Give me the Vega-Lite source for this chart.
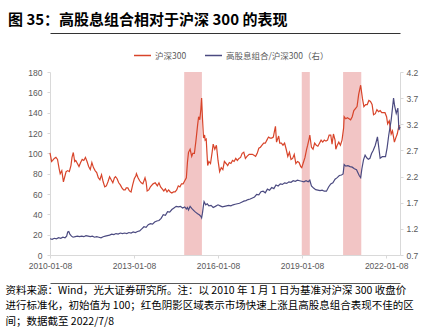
{
  "$schema": "https://vega.github.io/schema/vega-lite/v6.json",
  "width": 350,
  "height": 183,
  "autosize": {"type": "none"},
  "padding": {"left": 50, "top": 72, "right": 32, "bottom": 73},
  "background": "white",
  "config": {"view": {"stroke": null}, "axis": {"grid": false, "labelFont": "Liberation Sans", "labelFontSize": 8.5, "labelColor": "#595959"}},
  "title": {"text": "图 35：高股息组合相对于沪深 300 的表现", "anchor": "start", "frame": "group", "dx": -42, "dy": 18, "orient": "top", "offset": 8, "baseline": "bottom", "font": "Noto Sans CJK SC", "fontSize": 15, "fontWeight": "bold", "color": "#000000"},
  "datasets": {
    "shade": [
      {"start": "2014/10/24", "end": "2015/06/12"},
      {"start": "2019/01/04", "end": "2019/04/19"},
      {"start": "2020/06/26", "end": "2021/02/18"}
    ],
    "hs": [
      {"date": "2010/01/08", "v": 100.5}, {"date": "2010/01/29", "v": 92}, {"date": "2010/02/12", "v": 93}, {"date": "2010/03/05", "v": 95}, {"date": "2010/03/26", "v": 96}, {"date": "2010/04/16", "v": 94}, {"date": "2010/05/07", "v": 85}, {"date": "2010/05/21", "v": 80}, {"date": "2010/06/11", "v": 83}, {"date": "2010/07/02", "v": 72}, {"date": "2010/07/16", "v": 76}, {"date": "2010/08/06", "v": 82}, {"date": "2010/08/27", "v": 83}, {"date": "2010/09/17", "v": 82}, {"date": "2010/10/08", "v": 88}, {"date": "2010/10/22", "v": 96}, {"date": "2010/11/08", "v": 100.8}, {"date": "2010/11/26", "v": 92}, {"date": "2010/12/10", "v": 93}, {"date": "2010/12/31", "v": 90},
      {"date": "2011/01/21", "v": 87}, {"date": "2011/02/11", "v": 91}, {"date": "2011/03/04", "v": 94}, {"date": "2011/03/25", "v": 93}, {"date": "2011/04/15", "v": 96}, {"date": "2011/05/06", "v": 92}, {"date": "2011/05/27", "v": 87}, {"date": "2011/06/17", "v": 84}, {"date": "2011/07/08", "v": 91}, {"date": "2011/07/29", "v": 86}, {"date": "2011/08/19", "v": 83}, {"date": "2011/09/09", "v": 81}, {"date": "2011/09/30", "v": 76}, {"date": "2011/10/21", "v": 74}, {"date": "2011/11/11", "v": 79}, {"date": "2011/12/02", "v": 72}, {"date": "2011/12/23", "v": 67},
      {"date": "2012/01/13", "v": 68}, {"date": "2012/02/03", "v": 72}, {"date": "2012/02/24", "v": 77}, {"date": "2012/03/16", "v": 74}, {"date": "2012/04/06", "v": 71}, {"date": "2012/04/27", "v": 76}, {"date": "2012/05/11", "v": 77}, {"date": "2012/06/01", "v": 75}, {"date": "2012/06/22", "v": 71}, {"date": "2012/07/13", "v": 69}, {"date": "2012/08/03", "v": 66}, {"date": "2012/08/24", "v": 64}, {"date": "2012/09/14", "v": 64}, {"date": "2012/09/28", "v": 66}, {"date": "2012/10/19", "v": 66}, {"date": "2012/11/09", "v": 63}, {"date": "2012/11/30", "v": 62}, {"date": "2012/12/21", "v": 69},
      {"date": "2013/01/11", "v": 75}, {"date": "2013/02/01", "v": 78}, {"date": "2013/02/08", "v": 80}, {"date": "2013/03/01", "v": 76}, {"date": "2013/03/22", "v": 73}, {"date": "2013/04/12", "v": 71}, {"date": "2013/05/03", "v": 70}, {"date": "2013/05/31", "v": 76}, {"date": "2013/06/14", "v": 72}, {"date": "2013/06/28", "v": 63}, {"date": "2013/07/19", "v": 64}, {"date": "2013/08/09", "v": 67}, {"date": "2013/09/13", "v": 70}, {"date": "2013/10/11", "v": 71}, {"date": "2013/11/08", "v": 68}, {"date": "2013/11/29", "v": 71}, {"date": "2013/12/20", "v": 67},
      {"date": "2014/01/10", "v": 65}, {"date": "2014/01/31", "v": 63}, {"date": "2014/02/21", "v": 65}, {"date": "2014/03/14", "v": 62}, {"date": "2014/04/04", "v": 64}, {"date": "2014/04/25", "v": 62}, {"date": "2014/05/16", "v": 61}, {"date": "2014/06/06", "v": 62}, {"date": "2014/06/27", "v": 62}, {"date": "2014/07/18", "v": 64}, {"date": "2014/08/08", "v": 68}, {"date": "2014/08/29", "v": 67}, {"date": "2014/09/19", "v": 70}, {"date": "2014/10/10", "v": 70}, {"date": "2014/10/31", "v": 73}, {"date": "2014/11/21", "v": 76}, {"date": "2014/12/05", "v": 91}, {"date": "2014/12/19", "v": 101},
      {"date": "2015/01/09", "v": 104}, {"date": "2015/01/30", "v": 97}, {"date": "2015/02/13", "v": 100}, {"date": "2015/03/06", "v": 100}, {"date": "2015/03/27", "v": 113}, {"date": "2015/04/17", "v": 128}, {"date": "2015/04/30", "v": 136}, {"date": "2015/05/15", "v": 133}, {"date": "2015/05/29", "v": 143}, {"date": "2015/06/08", "v": 154.5}, {"date": "2015/06/19", "v": 135}, {"date": "2015/07/03", "v": 115}, {"date": "2015/07/17", "v": 118}, {"date": "2015/07/24", "v": 113}, {"date": "2015/08/07", "v": 114}, {"date": "2015/08/26", "v": 88}, {"date": "2015/09/11", "v": 92}, {"date": "2015/10/02", "v": 90}, {"date": "2015/10/23", "v": 101}, {"date": "2015/11/06", "v": 109}, {"date": "2015/11/27", "v": 104}, {"date": "2015/12/18", "v": 108},
      {"date": "2016/01/08", "v": 93}, {"date": "2016/01/29", "v": 82}, {"date": "2016/02/19", "v": 86}, {"date": "2016/03/11", "v": 84}, {"date": "2016/03/31", "v": 92}, {"date": "2016/04/22", "v": 90}, {"date": "2016/05/13", "v": 88}, {"date": "2016/06/03", "v": 91}, {"date": "2016/06/24", "v": 90}, {"date": "2016/07/15", "v": 93}, {"date": "2016/08/05", "v": 92}, {"date": "2016/08/26", "v": 95}, {"date": "2016/09/16", "v": 93}, {"date": "2016/10/07", "v": 95}, {"date": "2016/10/28", "v": 96}, {"date": "2016/11/18", "v": 100}, {"date": "2016/12/09", "v": 101}, {"date": "2016/12/30", "v": 95},
      {"date": "2017/01/20", "v": 97}, {"date": "2017/02/17", "v": 99}, {"date": "2017/03/10", "v": 99}, {"date": "2017/03/31", "v": 99}, {"date": "2017/04/21", "v": 98}, {"date": "2017/05/12", "v": 97}, {"date": "2017/06/02", "v": 100}, {"date": "2017/06/23", "v": 105}, {"date": "2017/07/14", "v": 106}, {"date": "2017/08/04", "v": 108}, {"date": "2017/08/25", "v": 110}, {"date": "2017/09/15", "v": 110}, {"date": "2017/10/06", "v": 113}, {"date": "2017/10/27", "v": 116}, {"date": "2017/11/17", "v": 115}, {"date": "2017/12/08", "v": 115}, {"date": "2017/12/29", "v": 116},
      {"date": "2018/01/19", "v": 124}, {"date": "2018/01/26", "v": 126.5}, {"date": "2018/02/09", "v": 111}, {"date": "2018/03/09", "v": 117}, {"date": "2018/03/23", "v": 110}, {"date": "2018/04/13", "v": 110}, {"date": "2018/05/04", "v": 108}, {"date": "2018/05/25", "v": 110}, {"date": "2018/06/15", "v": 104}, {"date": "2018/07/06", "v": 97}, {"date": "2018/07/27", "v": 101}, {"date": "2018/08/17", "v": 94}, {"date": "2018/09/07", "v": 95}, {"date": "2018/09/28", "v": 99}, {"date": "2018/10/19", "v": 90}, {"date": "2018/11/09", "v": 92}, {"date": "2018/11/30", "v": 91}, {"date": "2018/12/21", "v": 87},
      {"date": "2019/01/04", "v": 86}, {"date": "2019/01/25", "v": 91}, {"date": "2019/02/15", "v": 96}, {"date": "2019/03/08", "v": 104}, {"date": "2019/03/22", "v": 108}, {"date": "2019/04/12", "v": 115}, {"date": "2019/04/19", "v": 118}, {"date": "2019/05/10", "v": 106}, {"date": "2019/05/31", "v": 104}, {"date": "2019/06/21", "v": 110}, {"date": "2019/07/12", "v": 108}, {"date": "2019/08/02", "v": 107}, {"date": "2019/08/23", "v": 110}, {"date": "2019/09/13", "v": 113}, {"date": "2019/10/04", "v": 111}, {"date": "2019/10/25", "v": 113}, {"date": "2019/11/15", "v": 112}, {"date": "2019/12/06", "v": 113}, {"date": "2019/12/27", "v": 118},
      {"date": "2020/01/17", "v": 118}, {"date": "2020/02/03", "v": 109}, {"date": "2020/02/21", "v": 119}, {"date": "2020/03/13", "v": 113}, {"date": "2020/03/23", "v": 104}, {"date": "2020/04/10", "v": 108}, {"date": "2020/05/01", "v": 111}, {"date": "2020/05/22", "v": 108}, {"date": "2020/06/12", "v": 113}, {"date": "2020/07/03", "v": 125}, {"date": "2020/07/10", "v": 136}, {"date": "2020/07/31", "v": 134}, {"date": "2020/08/21", "v": 135}, {"date": "2020/09/11", "v": 134}, {"date": "2020/10/02", "v": 133}, {"date": "2020/10/23", "v": 136}, {"date": "2020/11/13", "v": 142}, {"date": "2020/12/04", "v": 144}, {"date": "2020/12/25", "v": 146},
      {"date": "2021/01/15", "v": 158}, {"date": "2021/02/10", "v": 167}, {"date": "2021/03/05", "v": 154}, {"date": "2021/03/24", "v": 146}, {"date": "2021/04/16", "v": 148}, {"date": "2021/05/07", "v": 148}, {"date": "2021/05/28", "v": 152}, {"date": "2021/06/18", "v": 151}, {"date": "2021/07/09", "v": 148}, {"date": "2021/07/28", "v": 138}, {"date": "2021/08/20", "v": 139}, {"date": "2021/09/10", "v": 143}, {"date": "2021/10/01", "v": 141}, {"date": "2021/10/22", "v": 142}, {"date": "2021/11/12", "v": 140}, {"date": "2021/12/03", "v": 140}, {"date": "2021/12/24", "v": 140},
      {"date": "2022/01/14", "v": 136}, {"date": "2022/01/28", "v": 129}, {"date": "2022/02/18", "v": 132}, {"date": "2022/03/15", "v": 119}, {"date": "2022/04/01", "v": 122}, {"date": "2022/04/26", "v": 111}, {"date": "2022/05/13", "v": 115}, {"date": "2022/06/02", "v": 119}, {"date": "2022/06/24", "v": 127}, {"date": "2022/07/08", "v": 127}
    ],
    "ratio": [
      {"date": "2010/01/08", "v": 1.01}, {"date": "2010/02/05", "v": 1.0}, {"date": "2010/03/05", "v": 1.02}, {"date": "2010/04/02", "v": 1.01}, {"date": "2010/04/30", "v": 1.03}, {"date": "2010/05/28", "v": 1.02}, {"date": "2010/06/25", "v": 1.04}, {"date": "2010/07/23", "v": 1.03}, {"date": "2010/08/13", "v": 1.06}, {"date": "2010/08/27", "v": 1.14}, {"date": "2010/09/10", "v": 1.15}, {"date": "2010/09/24", "v": 1.1}, {"date": "2010/10/15", "v": 1.06}, {"date": "2010/11/05", "v": 1.04}, {"date": "2010/12/03", "v": 1.05}, {"date": "2010/12/31", "v": 1.06},
      {"date": "2011/01/28", "v": 1.05}, {"date": "2011/02/25", "v": 1.06}, {"date": "2011/03/25", "v": 1.05}, {"date": "2011/04/22", "v": 1.07}, {"date": "2011/05/20", "v": 1.06}, {"date": "2011/06/17", "v": 1.05}, {"date": "2011/07/15", "v": 1.06}, {"date": "2011/08/12", "v": 1.04}, {"date": "2011/09/09", "v": 1.05}, {"date": "2011/10/07", "v": 1.04}, {"date": "2011/11/04", "v": 1.03}, {"date": "2011/12/02", "v": 1.05}, {"date": "2011/12/30", "v": 1.06},
      {"date": "2012/01/27", "v": 1.07}, {"date": "2012/02/24", "v": 1.08}, {"date": "2012/03/23", "v": 1.1}, {"date": "2012/04/20", "v": 1.09}, {"date": "2012/05/18", "v": 1.11}, {"date": "2012/06/15", "v": 1.1}, {"date": "2012/07/13", "v": 1.12}, {"date": "2012/08/10", "v": 1.11}, {"date": "2012/09/07", "v": 1.12}, {"date": "2012/10/05", "v": 1.11}, {"date": "2012/11/02", "v": 1.13}, {"date": "2012/11/30", "v": 1.12}, {"date": "2012/12/28", "v": 1.14},
      {"date": "2013/01/25", "v": 1.13}, {"date": "2013/02/22", "v": 1.15}, {"date": "2013/03/22", "v": 1.16}, {"date": "2013/04/19", "v": 1.2}, {"date": "2013/05/17", "v": 1.24}, {"date": "2013/06/14", "v": 1.23}, {"date": "2013/07/12", "v": 1.28}, {"date": "2013/08/09", "v": 1.3}, {"date": "2013/09/06", "v": 1.29}, {"date": "2013/10/04", "v": 1.33}, {"date": "2013/11/01", "v": 1.35}, {"date": "2013/11/29", "v": 1.36}, {"date": "2013/12/27", "v": 1.4},
      {"date": "2014/01/24", "v": 1.47}, {"date": "2014/02/21", "v": 1.46}, {"date": "2014/03/21", "v": 1.53}, {"date": "2014/04/18", "v": 1.52}, {"date": "2014/05/16", "v": 1.57}, {"date": "2014/06/13", "v": 1.6}, {"date": "2014/07/11", "v": 1.63}, {"date": "2014/08/08", "v": 1.62}, {"date": "2014/09/05", "v": 1.63}, {"date": "2014/10/03", "v": 1.6}, {"date": "2014/10/31", "v": 1.62}, {"date": "2014/11/21", "v": 1.58}, {"date": "2014/12/05", "v": 1.61}, {"date": "2014/12/19", "v": 1.56},
      {"date": "2015/01/09", "v": 1.63}, {"date": "2015/01/30", "v": 1.59}, {"date": "2015/02/27", "v": 1.55}, {"date": "2015/03/20", "v": 1.52}, {"date": "2015/04/17", "v": 1.49}, {"date": "2015/05/08", "v": 1.47}, {"date": "2015/05/29", "v": 1.44}, {"date": "2015/06/08", "v": 1.41}, {"date": "2015/06/19", "v": 1.5}, {"date": "2015/07/03", "v": 1.66}, {"date": "2015/07/10", "v": 1.72}, {"date": "2015/07/31", "v": 1.66}, {"date": "2015/08/21", "v": 1.68}, {"date": "2015/09/11", "v": 1.64}, {"date": "2015/10/09", "v": 1.65}, {"date": "2015/11/06", "v": 1.61}, {"date": "2015/12/04", "v": 1.63},
      {"date": "2016/01/08", "v": 1.66}, {"date": "2016/02/05", "v": 1.64}, {"date": "2016/03/04", "v": 1.62}, {"date": "2016/04/01", "v": 1.63}, {"date": "2016/04/29", "v": 1.64}, {"date": "2016/05/27", "v": 1.65}, {"date": "2016/06/24", "v": 1.64}, {"date": "2016/07/22", "v": 1.66}, {"date": "2016/08/19", "v": 1.67}, {"date": "2016/09/16", "v": 1.68}, {"date": "2016/10/14", "v": 1.69}, {"date": "2016/11/11", "v": 1.71}, {"date": "2016/12/09", "v": 1.73},
      {"date": "2017/01/06", "v": 1.74}, {"date": "2017/02/03", "v": 1.76}, {"date": "2017/03/03", "v": 1.77}, {"date": "2017/03/31", "v": 1.79}, {"date": "2017/04/28", "v": 1.81}, {"date": "2017/05/26", "v": 1.86}, {"date": "2017/06/23", "v": 1.85}, {"date": "2017/07/21", "v": 1.91}, {"date": "2017/08/18", "v": 1.92}, {"date": "2017/09/15", "v": 1.89}, {"date": "2017/10/13", "v": 1.96}, {"date": "2017/11/10", "v": 1.94}, {"date": "2017/12/08", "v": 1.99},
      {"date": "2018/01/05", "v": 1.97}, {"date": "2018/02/02", "v": 2.04}, {"date": "2018/03/02", "v": 2.02}, {"date": "2018/03/30", "v": 2.06}, {"date": "2018/04/27", "v": 2.05}, {"date": "2018/05/25", "v": 2.08}, {"date": "2018/06/22", "v": 2.07}, {"date": "2018/07/20", "v": 2.1}, {"date": "2018/08/17", "v": 2.09}, {"date": "2018/09/14", "v": 2.12}, {"date": "2018/10/12", "v": 2.11}, {"date": "2018/11/09", "v": 2.13}, {"date": "2018/12/07", "v": 2.12},
      {"date": "2019/01/04", "v": 2.11}, {"date": "2019/02/01", "v": 2.1}, {"date": "2019/03/01", "v": 2.12}, {"date": "2019/03/29", "v": 2.1}, {"date": "2019/04/19", "v": 2.13}, {"date": "2019/05/10", "v": 2.02}, {"date": "2019/06/07", "v": 1.98}, {"date": "2019/07/05", "v": 1.95}, {"date": "2019/08/02", "v": 1.94}, {"date": "2019/08/30", "v": 1.93}, {"date": "2019/09/27", "v": 1.94}, {"date": "2019/10/25", "v": 1.92}, {"date": "2019/11/22", "v": 1.92}, {"date": "2019/12/20", "v": 2.0},
      {"date": "2020/01/17", "v": 2.06}, {"date": "2020/02/14", "v": 2.08}, {"date": "2020/03/13", "v": 2.15}, {"date": "2020/04/10", "v": 2.18}, {"date": "2020/05/08", "v": 2.22}, {"date": "2020/06/05", "v": 2.23}, {"date": "2020/06/26", "v": 2.25}, {"date": "2020/07/10", "v": 2.43}, {"date": "2020/07/31", "v": 2.4}, {"date": "2020/08/28", "v": 2.41}, {"date": "2020/09/25", "v": 2.39}, {"date": "2020/10/23", "v": 2.38}, {"date": "2020/11/20", "v": 2.35}, {"date": "2020/12/18", "v": 2.33},
      {"date": "2021/01/22", "v": 2.22}, {"date": "2021/02/10", "v": 2.18}, {"date": "2021/02/26", "v": 2.35}, {"date": "2021/03/19", "v": 2.52}, {"date": "2021/04/09", "v": 2.61}, {"date": "2021/04/30", "v": 2.56}, {"date": "2021/05/21", "v": 2.53}, {"date": "2021/06/11", "v": 2.55}, {"date": "2021/07/02", "v": 2.64}, {"date": "2021/07/23", "v": 2.7}, {"date": "2021/08/20", "v": 2.8}, {"date": "2021/09/17", "v": 2.96}, {"date": "2021/10/22", "v": 2.55}, {"date": "2021/11/19", "v": 2.58}, {"date": "2021/12/31", "v": 2.58},
      {"date": "2022/01/21", "v": 2.75}, {"date": "2022/02/11", "v": 2.99}, {"date": "2022/03/15", "v": 3.28}, {"date": "2022/04/15", "v": 3.7}, {"date": "2022/04/29", "v": 3.55}, {"date": "2022/05/20", "v": 3.41}, {"date": "2022/06/10", "v": 3.51}, {"date": "2022/06/24", "v": 3.09}, {"date": "2022/07/08", "v": 3.15}
    ]
  },
  "layer": [
    {
      "data": {"name": "shade"},
      "mark": {"type": "rect", "color": "#f2c5c5"},
      "encoding": {
        "x": {"field": "start", "type": "temporal", "scale": {"domain": [{"year": 2010, "month": 1, "date": 8}, {"year": 2022, "month": 7, "date": 8}]},
          "axis": {"orient": "bottom", "offset": 28, "labels": false, "ticks": false, "domainColor": "#595959", "domainWidth": 1,
            "title": ["资料来源：Wind，光大证券研究所。注：以 2010 年 1 月 1 日为基准对沪深 300 收盘价", "进行标准化，初始值为 100；红色阴影区域表示市场快速上涨且高股息组合表现不佳的区", "间；数据截至 2022/7/8"],
            "titleAnchor": "start", "titleAlign": "left", "titleBaseline": "top", "titleX": -45, "titleY": 2, "titleFont": "Noto Sans CJK SC", "titleFontSize": 10.5, "titleFontWeight": "normal", "titleColor": "#000000", "titleLineHeight": 15.5}},
        "x2": {"field": "end"}
      }
    },
    {
      "data": {"name": "hs"},
      "mark": {"type": "line", "strokeWidth": 1.2},
      "encoding": {
        "x": {"field": "date", "type": "temporal",
          "axis": {"orient": "bottom", "values": [{"year": 2010, "month": 1, "date": 8}, {"year": 2013, "month": 1, "date": 8}, {"year": 2016, "month": 1, "date": 8}, {"year": 2019, "month": 1, "date": 8}, {"year": 2022, "month": 1, "date": 8}], "format": "%Y-%m-%d", "title": null, "domainColor": "#d9d9d9", "tickColor": "#d9d9d9", "tickSize": 3, "labelPadding": 3, "labelFlush": false, "labelOverlap": false}},
        "y": {"field": "v", "type": "quantitative", "scale": {"domain": [0, 180], "nice": false},
          "axis": {"orient": "left", "values": [0, 20, 40, 60, 80, 100, 120, 140, 160, 180], "title": null, "domainColor": "#d9d9d9", "tickColor": "#d9d9d9", "tickSize": 3, "labelPadding": 5}},
        "color": {"datum": "沪深300", "type": "nominal",
          "scale": {"domain": ["沪深300", "高股息组合/沪深300（右）"], "range": ["#d8442a", "#4b4a80"]},
          "legend": {"orient": "none", "legendX": 83, "legendY": -26, "direction": "horizontal", "title": null, "padding": 0, "symbolType": "stroke", "symbolStrokeWidth": 1.5, "symbolSize": 290, "labelFont": "Noto Sans CJK SC", "labelFontSize": 8.5, "labelColor": "#595959", "labelOffset": 3, "columnPadding": 14}}
      }
    },
    {
      "data": {"name": "ratio"},
      "mark": {"type": "line", "strokeWidth": 1.2},
      "encoding": {
        "x": {"field": "date", "type": "temporal",
          "axis": {"orient": "top", "offset": 39, "labels": false, "ticks": false, "title": null, "domainColor": "#333333", "domainWidth": 1}},
        "y": {"field": "v", "type": "quantitative", "scale": {"domain": [0.7, 4.2], "nice": false, "zero": false},
          "axis": {"orient": "right", "values": [0.7, 1.2, 1.7, 2.2, 2.7, 3.2, 3.7, 4.2], "format": ".1f", "title": null, "domainColor": "#d9d9d9", "tickColor": "#d9d9d9", "tickSize": 3, "labelPadding": 3}},
        "color": {"datum": "高股息组合/沪深300（右）", "type": "nominal"}
      }
    }
  ],
  "resolve": {"scale": {"y": "independent"}, "axis": {"x": "independent"}}
}
